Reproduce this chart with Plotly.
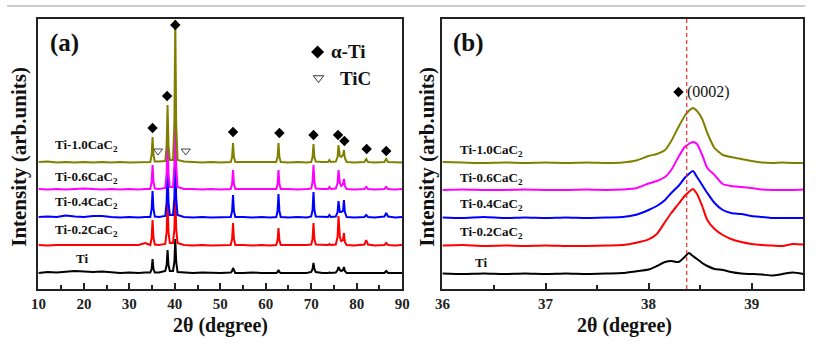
import plotly.graph_objects as go

# ---------------- Panel (a): full XRD patterns ----------------
two_theta_a = [10, 12, 14, 16, 18, 20, 22, 24, 26, 28, 30, 32, 33.5, 34.6, 34.9, 35.1, 35.3, 35.6,
               36.5, 37.9, 38.2, 38.4, 38.6, 38.9, 39.6, 39.9, 40.1, 40.3, 40.6, 42, 44, 46, 48, 50,
               52.3, 52.6, 52.8, 53.0, 53.3, 55, 57, 59, 61, 62.3, 62.6, 62.8, 63.0, 63.3, 65, 67, 69,
               70.0, 70.3, 70.5, 70.7, 71.0, 72.5, 73.7, 74.0, 74.3, 75.4, 75.8, 76.0, 76.3, 76.6,
               77.0, 77.2, 77.4, 77.8, 79.5, 81.7, 82.1, 82.5, 84, 86.1, 86.5, 86.9, 88.5, 90]

int_ti_a = [1, 2, 1.5, 2, 3, 2.5, 2, 2.5, 1.5, 1, 1.5, 1, 1.5, 1.5, 5, 15, 5, 1.5,
            1.5, 3, 9, 24, 9, 3, 3, 12, 35, 12, 2, 1.5, 1, 1.5, 1, 1,
            1.5, 3, 6, 3, 1, 1, 1.5, 1, 1, 1, 2, 4, 2, 1, 1, 1, 1,
            2, 5, 11, 5, 2, 1, 1, 1.5, 1, 1.5, 4, 7, 4, 3,
            4, 7, 3, 1, 1, 1, 1.5, 1, 1, 1, 3, 1, 1, 1]

int_02_a = [1, 0.5, 1, 1, 0.5, 1, 1, 0.5, 1, 0.5, 1, 1, 3, 1, 8, 26, 8, 1.5,
            1, 2, 14, 45, 14, 3, 3, 17, 55, 17, 3, 1, 0.5, 1, 0.5, 1,
            1, 7, 23, 7, 1, 1, 0.5, 1, 0.5, 1, 6, 18, 6, 1, 1, 0.5, 1,
            1.5, 7, 23, 7, 1.5, 1, 1, 2, 1, 1.5, 9, 30, 9, 5,
            6, 13, 4, 1, 0.5, 1.5, 6, 1.5, 0.5, 1, 3, 1, 0.5, 1]

int_04_a = [1, 1.5, 1, 2.5, 1.5, 1, 2, 2, 1, 0.5, 1, 0.5, 1, 1, 9, 27, 9, 1.5,
            1, 2, 16, 50, 16, 3, 3, 20, 65, 20, 3, 1, 0.5, 1, 0.5, 1,
            1, 7, 23, 7, 1, 1, 0.5, 1, 0.5, 1, 7, 24, 7, 1, 0.5, 1, 0.5,
            1.5, 8, 26, 8, 1.5, 1, 1, 3, 1, 1.5, 6, 17, 6, 6,
            7, 18, 6, 1, 0.5, 1, 3, 1, 0.5, 1.5, 5, 1.5, 0.5, 1]

int_06_a = [1, 0.5, 1, 0.5, 1, 1.5, 1, 0.5, 1, 0.5, 1, 0.5, 1, 1, 8, 25, 8, 1.5,
            1, 2, 17, 55, 17, 3, 3, 25, 80, 25, 3, 1, 1, 0.5, 1, 0.5,
            1, 6, 20, 6, 1, 1, 0.5, 1, 0.5, 1, 6, 20, 6, 1, 1, 0.5, 1,
            1.5, 8, 25, 8, 1.5, 1, 1, 3, 1, 1.5, 7, 20, 7, 4,
            6, 11, 4, 1, 0.5, 1, 3, 1, 0.5, 1, 3, 1, 0.5, 1]

int_10_a = [1, 1.5, 0.5, 1, 0.5, 1, 0.5, 1, 0.5, 1, 0.5, 1, 1, 1, 8, 26, 8, 1.5,
            1.5, 2, 18, 58, 18, 3, 3, 40, 143, 40, 3, 1.5, 1, 0.5, 1, 0.5,
            1, 6, 20, 6, 1, 1, 0.5, 1, 0.5, 1, 6, 20, 6, 1, 0.5, 1, 0.5,
            1, 6, 19, 6, 1.5, 1, 1, 3, 1, 1.5, 6, 18, 7, 6,
            8, 13, 5, 1, 0.5, 1, 4, 1, 0.5, 1, 4, 1, 0.5, 0.5]

# peak markers (2θ, height) for panel (a)
alpha_ti_peaks_x = [35.1, 38.3, 40.1, 52.8, 63.0, 70.5, 75.9, 77.3, 82.2, 86.5]
alpha_ti_peaks_y = [161, 193, 264, 157, 156, 154, 154, 148, 140, 138]
tic_peaks_x = [36.3, 42.4]
tic_peaks_y = [138, 138]

# ---------------- Panel (b): (0002) peak region ----------------
two_theta_b = [36.0, 36.2, 36.4, 36.6, 36.8, 37.0, 37.2, 37.4, 37.6, 37.75, 37.88, 38.0, 38.08,
               38.16, 38.22, 38.29, 38.35, 38.39, 38.43, 38.47, 38.52, 38.57, 38.64, 38.72, 38.8,
               38.9, 39.0, 39.1, 39.2, 39.3, 39.4, 39.5]

int_ti_b = [0.5, 0, 0.5, 0, 0.5, 0, 0.5, 0, 0.5, 1, 2.7, 4.5, 8, 12, 13, 12, 17, 21, 18, 15, 11, 8,
            5, 4, 2, 0.5, 0, -0.5, -1.5, 0, 1.5, 0]
int_02_b = [0.5, 1, 0, 0.5, 0, 0.5, 0, 0, 0.5, 1, 3.3, 6.7, 12, 24, 33, 42, 50, 54, 57, 52, 40, 26,
            17, 11, 7, 4, 2, 1, 0.5, 0, 2, 1.5]
int_04_b = [0.5, 0, 1, 0, 0.5, 0, 0.5, 0, 0.5, 1, 3.3, 8, 12, 18, 25, 32, 40, 44, 47, 41, 33, 25,
            15, 8, 5, 4, 2, 1, 0, 0, 0, 0]
int_06_b = [0, 0.5, 0, 0, 0.5, 0, 0, 0.5, 0, 0.5, 1.7, 6.5, 9, 13, 20, 33, 43, 46, 48, 46, 35, 22,
            15, 6, 4, 3, 2, 0.5, 0, 0, 0, 0.5]
int_10_b = [1, 0.5, 0, 0.5, 0, 0.5, 0, 0.5, 0, 0.5, 2.5, 7, 9, 13, 22, 36, 47, 52, 55, 52, 44, 30,
            15, 8, 6, 4, 2, 0.5, 0, 0.5, 0, 0]

ref_0002 = 38.37
marker_0002 = (38.29, 197)

labels = ["Ti", "Ti-0.2CaC<sub>2</sub>", "Ti-0.4CaC<sub>2</sub>", "Ti-0.6CaC<sub>2</sub>", "Ti-1.0CaC<sub>2</sub>"]
colors = ["#000000", "#FF0000", "#0000FF", "#FF00FF", "#808000"]

# ---------------- figure ----------------
W, H = 820, 350
offsets_a = [15, 43, 71, 99, 126]
offsets_b = [15, 43, 71, 99, 126]
series_a = [int_ti_a, int_02_a, int_04_a, int_06_a, int_10_a]
series_b = [int_ti_b, int_02_b, int_04_b, int_06_b, int_10_b]

FONT = "Liberation Serif"
fig = go.Figure()

for ys, off, c in zip(series_a, offsets_a, colors):
    fig.add_trace(go.Scatter(x=two_theta_a, y=[v + off for v in ys], mode="lines",
                             line=dict(color=c, width=2), xaxis="x", yaxis="y",
                             showlegend=False, hoverinfo="skip"))
for ys, off, c in zip(series_b, offsets_b, colors):
    fig.add_trace(go.Scatter(x=two_theta_b, y=[v + off for v in ys], mode="lines",
                             line=dict(color=c, width=2, shape="spline", smoothing=0.6),
                             xaxis="x2", yaxis="y2", showlegend=False, hoverinfo="skip"))

# peak markers
fig.add_trace(go.Scatter(x=alpha_ti_peaks_x, y=alpha_ti_peaks_y, mode="markers",
                         marker=dict(symbol="diamond", size=8, color="black"),
                         xaxis="x", yaxis="y", showlegend=False, hoverinfo="skip"))
fig.add_trace(go.Scatter(x=tic_peaks_x, y=tic_peaks_y, mode="markers",
                         marker=dict(symbol="triangle-down-open", size=8, color="#444",
                                     line=dict(width=1)),
                         xaxis="x", yaxis="y", showlegend=False, hoverinfo="skip"))
# in-plot key
fig.add_trace(go.Scatter(x=[71.4], y=[237], mode="markers",
                         marker=dict(symbol="diamond", size=10, color="black"),
                         xaxis="x", yaxis="y", showlegend=False, hoverinfo="skip"))
fig.add_trace(go.Scatter(x=[71.6], y=[211], mode="markers",
                         marker=dict(symbol="triangle-down-open", size=9, color="#333",
                                     line=dict(width=1)),
                         xaxis="x", yaxis="y", showlegend=False, hoverinfo="skip"))
fig.add_trace(go.Scatter(x=[marker_0002[0]], y=[marker_0002[1]], mode="markers",
                         marker=dict(symbol="diamond", size=8, color="black"),
                         xaxis="x2", yaxis="y2", showlegend=False, hoverinfo="skip"))

ydom = [1 - 289 / H, 1 - 19 / H]
axis_common = dict(showline=True, mirror=True, linecolor="#222", linewidth=2,
                   showgrid=False, zeroline=False)
tickfont = dict(family=FONT, size=15, color="#222", weight="bold")

fig.update_layout(
    width=W, height=H, margin=dict(l=0, r=0, t=0, b=0),
    paper_bgcolor="white", plot_bgcolor="white",
    xaxis=dict(domain=[32 / W, 402 / W], range=[10, 90], anchor="y",
               tickmode="array", tickvals=[10, 20, 30, 40, 50, 60, 70, 80, 90],
               ticks="inside", ticklen=6, tickwidth=1.5, tickcolor="#222",
               minor=dict(ticks="inside", ticklen=4, tickwidth=1.5, tickcolor="#222",
                          tickvals=[15, 25, 35, 45, 55, 65, 75, 85]),
               tickfont=tickfont, ticklabelstandoff=0, **axis_common),
    yaxis=dict(domain=ydom, range=[0, 270], anchor="x", showticklabels=False, ticks="",
               **axis_common),
    xaxis2=dict(domain=[443 / W, 810 / W], range=[36, 39.5], anchor="y2",
                tickmode="array", tickvals=[36, 37, 38, 39],
                ticks="inside", ticklen=6, tickwidth=1.5, tickcolor="#222",
                minor=dict(ticks="inside", ticklen=4, tickwidth=1.5, tickcolor="#222",
                           tickvals=[36.5, 37.5, 38.5, 39.5]),
                tickfont=tickfont, ticklabelstandoff=0, **axis_common),
    yaxis2=dict(domain=ydom, range=[0, 270], anchor="x2", showticklabels=False, ticks="",
                **axis_common),
)

# reference dashed line for (0002)
fig.add_shape(type="line", xref="x2", yref="y2 domain", x0=ref_0002, x1=ref_0002, y0=0, y1=1,
              line=dict(color="#E83030", width=1.2, dash="4px,3px"))
# thin grey rule at top
fig.add_shape(type="line", xref="paper", yref="paper", x0=0, x1=812 / W, y0=1 - 6 / H, y1=1 - 6 / H,
              line=dict(color="#BDBDBD", width=1.5))

ann = []
def A(text, x, y, xref, yref, size, bold=True, xanchor="left", angle=0, yanchor="middle"):
    ann.append(dict(text=text, x=x, y=y, xref=xref, yref=yref, showarrow=False,
                    xanchor=xanchor, yanchor=yanchor, textangle=angle,
                    font=dict(family=FONT, size=size, color="#111",
                              weight="bold" if bold else "normal")))

# panel letters and key
A("(a)", 12.0, 246, "x", "y", 25)
A("α-Ti", 73.9, 237, "x", "y", 19)
A("TiC", 75.9, 211, "x", "y", 19)
A("(b)", 36.08, 246, "x2", "y2", 25)
A("(0002)", 38.355, 197, "x2", "y2", 16, bold=False)

# series labels
pos_a = [(17.8, 31), (13.2, 59), (13.2, 87), (13.2, 112), (13.2, 144)]
pos_b = [(36.30, 27), (36.15, 57), (36.15, 85), (36.15, 111), (36.15, 139)]
for lab, (x, y) in zip(labels, pos_a):
    A(lab, x, y, "x", "y", 13)
for lab, (x, y) in zip(labels, pos_b):
    A(lab, x, y, "x2", "y2", 13)

# axis titles
A("2θ (degree)", 217 / W, 1 - 325 / H, "paper", "paper", 20, xanchor="center")
A("2θ (degree)", 628 / W, 1 - 325 / H, "paper", "paper", 20, xanchor="center")
A("Intensity (arb.units)", 12 / W, 1 - 157 / H, "paper", "paper", 21, xanchor="center", angle=-90)
A("Intensity (arb.units)", 427 / W, 1 - 157 / H, "paper", "paper", 21, xanchor="center", angle=-90)

fig.update_layout(annotations=ann)
fig.write_html("out.html")
